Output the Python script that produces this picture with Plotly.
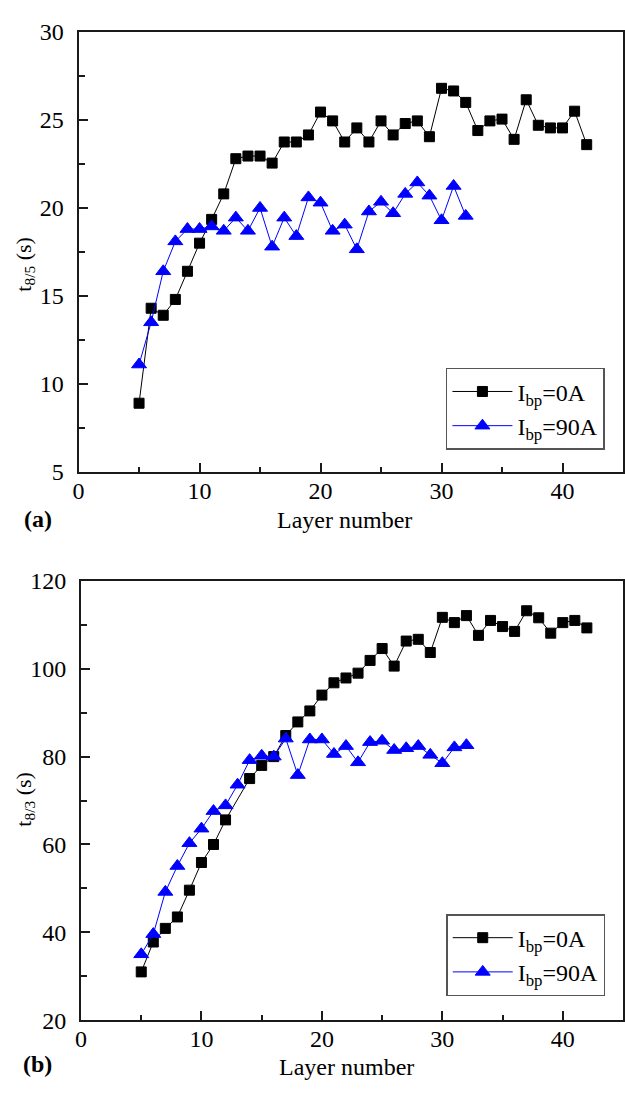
import plotly.graph_objects as go

# Layer numbers
layers_0a_top = list(range(5, 43))
layers_90a_top = list(range(5, 33))
layers_0a_bot = [5, 6, 7, 8, 9, 10, 11, 12] + list(range(14, 43))
layers_90a_bot = list(range(5, 33))

# (a) cooling time t8/5 (s)
t85_0a = [8.9, 14.3, 13.9, 14.8, 16.4, 18.0, 19.35, 20.8, 22.8, 22.95,
          22.95, 22.55, 23.75, 23.75, 24.15, 25.45, 24.95, 23.75, 24.55, 23.75,
          24.95, 24.15, 24.8, 24.95, 24.05, 26.8, 26.65, 26.0, 24.4, 24.95,
          25.05, 23.9, 26.15, 24.7, 24.55, 24.55, 25.5, 23.6]
t85_90a = [11.1, 13.5, 16.4, 18.1, 18.8, 18.8, 18.95, 18.7, 19.45, 18.7,
           20.0, 17.8, 19.45, 18.4, 20.6, 20.3, 18.7, 19.05, 17.65, 19.8,
           20.35, 19.7, 20.8, 21.45, 20.7, 19.3, 21.25, 19.55]

# (b) cooling time t8/3 (s)
t83_0a = [31.0, 37.8, 40.9, 43.5, 49.6, 55.9, 60.0, 65.6, 75.0, 78.0,
          80.0, 84.8, 87.9, 90.4, 94.0, 96.8, 97.9, 99.0, 101.9, 104.6,
          100.6, 106.3, 106.7, 103.7, 111.7, 110.5, 112.1, 107.6, 111.0, 109.6,
          108.5, 113.2, 111.6, 108.1, 110.5, 111.0, 109.3]
t83_90a = [35.0, 39.6, 49.2, 55.1, 60.3, 63.6, 67.6, 68.9, 73.6, 79.2,
           80.2, 80.0, 84.1, 75.8, 83.9, 83.9, 80.6, 82.4, 78.7, 83.3,
           83.6, 81.5, 81.9, 82.4, 80.4, 78.5, 82.1, 82.6]

names = ["I<sub>bp</sub>=0A", "I<sub>bp</sub>=90A"]
x_ticks = [0, 10, 20, 30, 40]

W, H = 625, 1095
SERIF = "Liberation Serif, Times New Roman, serif"


def px_x(v):
    return v / W


def px_y(v):
    return 1 - v / H


fig = go.Figure()

sq = dict(symbol="square", size=10, color="black", line=dict(color="black", width=1))
tri = dict(symbol="triangle-up", size=13, color="#0000ff", line=dict(color="#0000ff", width=1))

fig.add_trace(go.Scatter(x=layers_0a_top, y=t85_0a, mode="lines+markers", name=names[0],
                         line=dict(color="black", width=1), marker=sq,
                         xaxis="x", yaxis="y", legend="legend"))
fig.add_trace(go.Scatter(x=layers_90a_top, y=t85_90a, mode="lines+markers", name=names[1],
                         line=dict(color="#0000ff", width=1), marker=tri,
                         xaxis="x", yaxis="y", legend="legend"))
fig.add_trace(go.Scatter(x=layers_0a_bot, y=t83_0a, mode="lines+markers", name=names[0],
                         line=dict(color="black", width=1), marker=sq,
                         xaxis="x2", yaxis="y2", legend="legend2"))
fig.add_trace(go.Scatter(x=layers_90a_bot, y=t83_90a, mode="lines+markers", name=names[1],
                         line=dict(color="#0000ff", width=1), marker=tri,
                         xaxis="x2", yaxis="y2", legend="legend2"))

axis_common = dict(
    showline=True, mirror=True, linecolor="#1a1a1a", linewidth=2,
    ticks="inside", tickcolor="#1a1a1a", tickwidth=2, ticklen=9,
    showgrid=False, zeroline=False,
    tickfont=dict(family=SERIF, size=24, color="black"),
)

legend_common = dict(xanchor="right", yanchor="top",
                     bordercolor="#555555", borderwidth=1.5, bgcolor="white",
                     font=dict(family=SERIF, size=24, color="black"), itemwidth=60)

fig.update_layout(
    xaxis=dict(axis_common, domain=[px_x(73.5), 1], range=[0, 45], anchor="y",
               tickvals=x_ticks, ticklabelstandoff=-4,
               minor=dict(ticks="inside", ticklen=5, tickwidth=2, dtick=5, tick0=0, tickcolor="#1a1a1a")),
    yaxis=dict(axis_common, domain=[px_y(470), px_y(19.5)], range=[5, 30], anchor="x",
               dtick=5, tick0=5, ticklabelstandoff=8,
               minor=dict(ticks="inside", ticklen=6, tickwidth=2, dtick=2.5, tick0=5, tickcolor="#1a1a1a")),
    xaxis2=dict(axis_common, domain=[px_x(76), 1], range=[0, 45], anchor="y2",
                tickvals=x_ticks, ticklabelstandoff=-4,
                minor=dict(ticks="inside", ticklen=5, tickwidth=2, dtick=5, tick0=0, tickcolor="#1a1a1a")),
    yaxis2=dict(axis_common, domain=[px_y(1031.7), px_y(581.7)], range=[20, 120], anchor="x2",
                dtick=20, tick0=20, ticklabelstandoff=8,
                minor=dict(ticks="inside", ticklen=6, tickwidth=2, dtick=10, tick0=20, tickcolor="#1a1a1a")),
    legend=dict(legend_common, x=px_x(606.7), y=px_y(363.5)),
    legend2=dict(legend_common, x=px_x(607), y=px_y(923)),
    width=W, height=H,
    margin=dict(l=0, r=0, t=0, b=0),
    paper_bgcolor="white", plot_bgcolor="white",
    showlegend=True,
)

title_font = dict(family=SERIF, size=24, color="black")
ytitle_font = dict(family=SERIF, size=22, color="black")
annotations = [
    dict(text="Layer number", x=px_x(343), y=px_y(519), font=title_font),
    dict(text="Layer number", x=px_x(345), y=px_y(1080), font=title_font),
    dict(text="t<sub>8/5</sub> (s)", x=px_x(19), y=px_y(257), textangle=-90, font=ytitle_font),
    dict(text="t<sub>8/3</sub> (s)", x=px_x(19), y=px_y(805), textangle=-90, font=ytitle_font),
    dict(text="<b>(a)</b>", x=px_x(32), y=px_y(518), font=title_font),
    dict(text="<b>(b)</b>", x=px_x(32), y=px_y(1077), font=title_font),
]
for a in annotations:
    a.update(xref="paper", yref="paper", showarrow=False, xanchor="center", yanchor="middle")
fig.update_layout(annotations=annotations)

fig.write_html("out.html")
